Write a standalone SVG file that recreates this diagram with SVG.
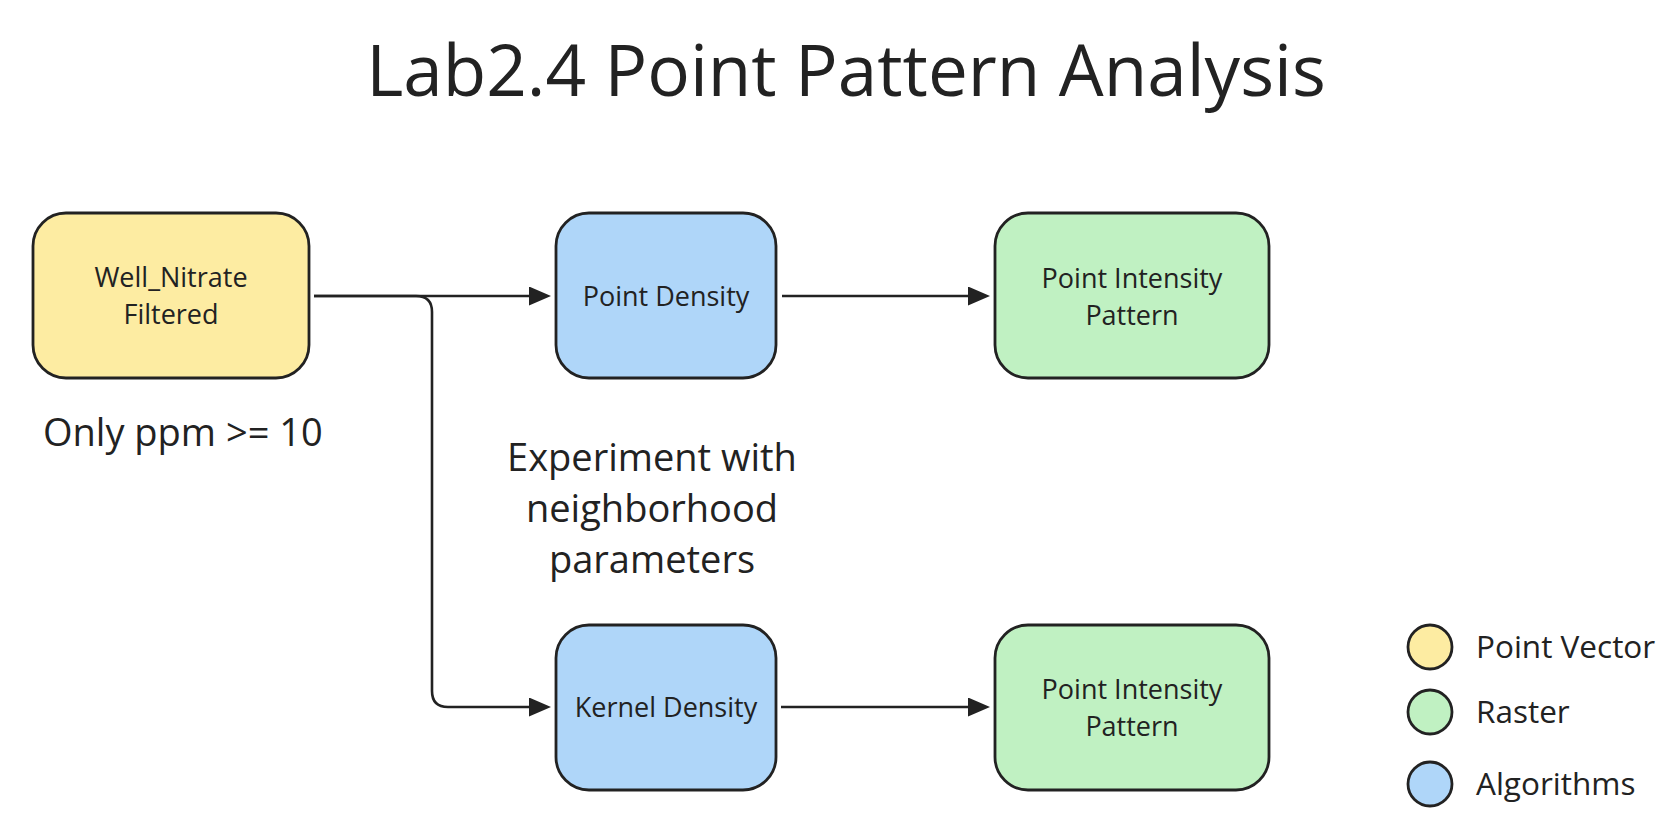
<svg xmlns="http://www.w3.org/2000/svg" width="1680" height="840" viewBox="0 0 1680 840">
<defs>
<style>
.t{font-family:"Open Sans","Noto Sans",sans-serif;fill:#222222;}
.node{stroke:#222222;stroke-width:2.8;}
.yellow{fill:#FDECA2;}
.blue{fill:#AFD6F9;}
.green{fill:#C0F1C2;}
.edge{fill:none;stroke:#222222;stroke-width:2.6;marker-end:url(#arrow);}
.nt{font-size:27px;text-anchor:middle;}
.lt{font-size:38px;}
.gt{font-size:31.5px;}
</style>
<marker id="arrow" markerUnits="userSpaceOnUse" markerWidth="22" markerHeight="20" refX="16" refY="9.5" orient="auto">
<path d="M0,0 L22,9.5 L0,19 Z" fill="#222222"/>
</marker>
</defs>
<rect width="1680" height="840" fill="#ffffff"/>
<text class="t" x="846" y="96" font-size="71" text-anchor="middle">Lab2.4 Point Pattern Analysis</text>
<g id="connectors">
<path class="edge" d="M314,296 H545"/>
<path class="edge" d="M314,296 H416 Q432,296 432,312 V691 Q432,707 448,707 H545"/>
<path class="edge" d="M782,296 H984"/>
<path class="edge" d="M781,707 H984"/>
</g>
<g id="well_nitrate">
<rect class="node yellow" x="33" y="213" width="276" height="165" rx="33"/>
<text class="t nt" x="171" y="287">Well_Nitrate</text>
<text class="t nt" x="171" y="324">Filtered</text>
</g>
<g id="point_density">
<rect class="node blue" x="556" y="213" width="220" height="165" rx="33"/>
<text class="t nt" x="666" y="306">Point Density</text>
</g>
<g id="pip_top">
<rect class="node green" x="995" y="213" width="274" height="165" rx="33"/>
<text class="t nt" x="1132" y="288">Point Intensity</text>
<text class="t nt" x="1132" y="325">Pattern</text>
</g>
<g id="kernel_density">
<rect class="node blue" x="556" y="625" width="220" height="165" rx="33"/>
<text class="t nt" x="666" y="717">Kernel Density</text>
</g>
<g id="pip_bottom">
<rect class="node green" x="995" y="625" width="274" height="165" rx="33"/>
<text class="t nt" x="1132" y="699">Point Intensity</text>
<text class="t nt" x="1132" y="736">Pattern</text>
</g>
<g id="label_filter">
<text class="t lt" x="43" y="446" font-size="38.5">Only ppm &gt;= 10</text>
</g>
<g id="label_experiment">
<text class="t lt" x="652" y="471" text-anchor="middle">Experiment with</text>
<text class="t lt" x="652" y="522" text-anchor="middle">neighborhood</text>
<text class="t lt" x="652" y="573" text-anchor="middle">parameters</text>
</g>
<g id="legend">
<circle class="node yellow" cx="1430" cy="647" r="22"/>
<text class="t gt" x="1476" y="658">Point Vector</text>
<circle class="node green" cx="1430" cy="712" r="22"/>
<text class="t gt" x="1476" y="723">Raster</text>
<circle class="node blue" cx="1430" cy="784" r="22"/>
<text class="t gt" x="1476" y="795">Algorithms</text>
</g>
</svg>
